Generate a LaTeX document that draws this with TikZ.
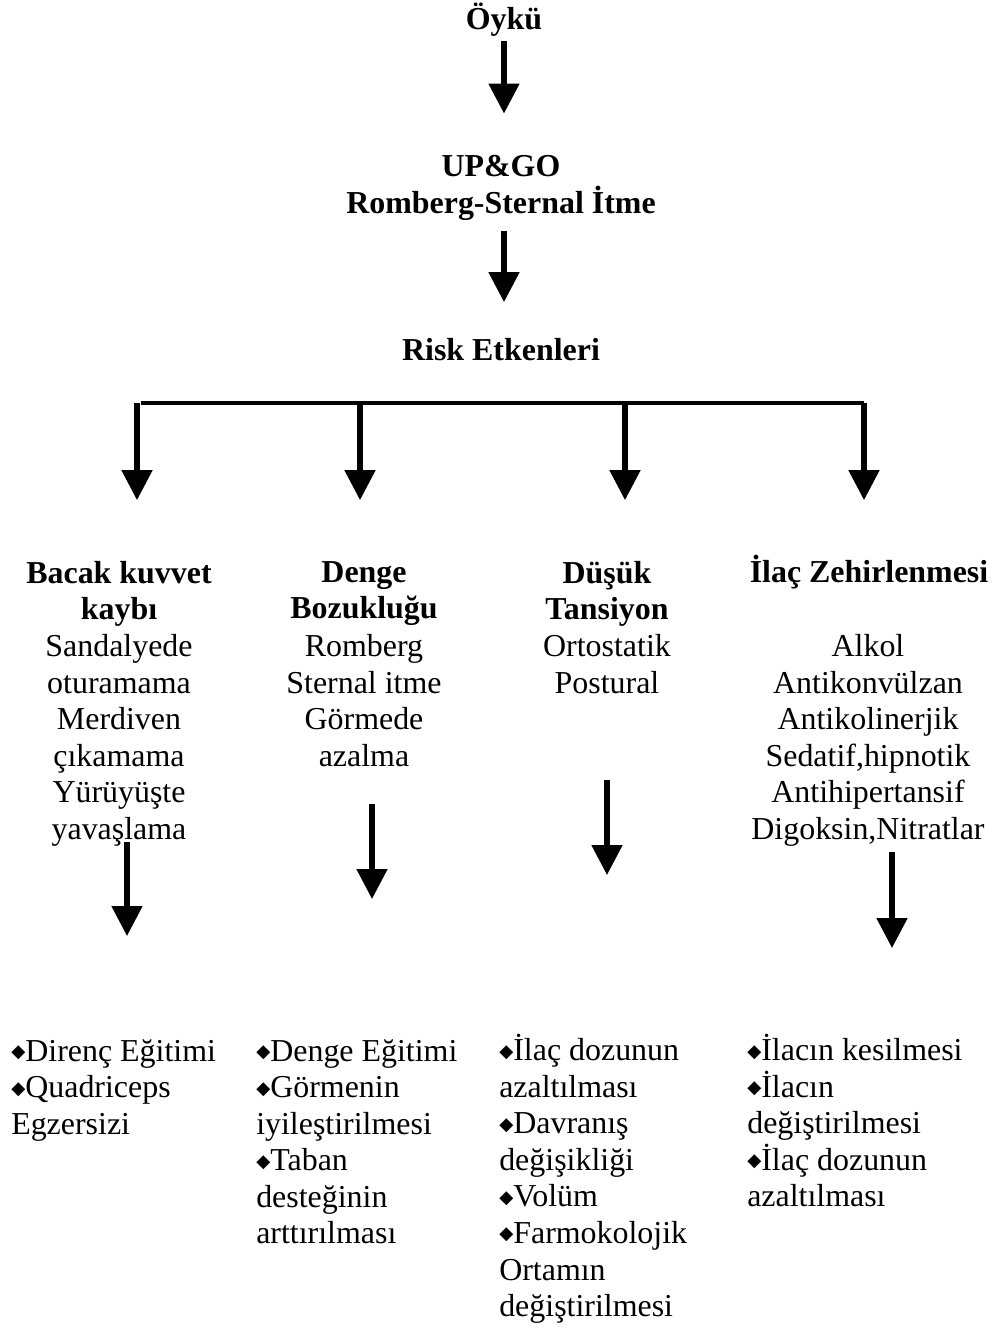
\documentclass[tikz,border=0pt]{standalone}
\usepackage{fontspec}
\setmainfont{Liberation Serif}
\newfontfamily\symfont{DejaVu Sans}
\usetikzlibrary{arrows.meta,positioning}
\newcommand{\dia}{{\symfont\fontsize{13}{13}\selectfont\raisebox{2.5pt}{◆}}}
\newcommand{\tp}{\rule{0pt}{25pt}}
\tikzset{txt/.style={font=\fontsize{22.7}{26}\selectfont,inner sep=0pt,align=center,anchor=north,execute at begin node=\tp},
  head/.style={txt,font=\fontsize{22.7}{26}\selectfont\bfseries},
  todo/.style={txt,align=left,anchor=north west},
  flow/.style={-{Triangle[length=21.3pt,width=21.3pt]},line width=3.6pt},
  bar/.style={line width=2.9pt}}

\begin{document}
\begin{tikzpicture}[x=0.025cm,y=-0.025cm]
  \useasboundingbox (0,0) rectangle (999,1328);
  % top chain
  \node[head] (oyku) at (504,-6) {Öykü};
  \node[head] (upgo) at (501,155) {UP\&GO\\Romberg-Sternal İtme};
  \node[head] (risk) at (501,325) {Risk Etkenleri};
  \draw[flow,shorten <=3pt,shorten >=29.5pt] (oyku) -- (oyku |- upgo.north);
  \draw[flow,shorten <=7.8pt,shorten >=16.3pt] (upgo.south -| oyku) -- (oyku |- risk.north);
  % risk factors
  \node[head] (h1) at (119,561) {Bacak kuvvet\\kaybı};
  \node[head] (h2) at (364,561) {Denge\\Bozukluğu};
  \node[head] (h3) at (607,561) {Düşük\\Tansiyon};
  \node[head] (h4) at (869,547) {İlaç Zehirlenmesi};
  \node[txt] (l1) at (119,634) {Sandalyede\\oturamama\\Merdiven\\çıkamama\\Yürüyüşte\\yavaşlama};
  \node[txt] (l2) at (364,634) {Romberg\\Sternal itme\\Görmede\\azalma};
  \node[txt] (l3) at (607,634) {Ortostatik\\Postural};
  \node[txt] (l4) at (868,634) {Alkol\\Antikonvülzan\\Antikolinerjik\\Sedatif,hipnotik\\Antihipertansif\\Digoksin,Nitratlar};
  \coordinate (bl) at (141,403);
  \coordinate (br) at (864,403);
  \draw[bar] (bl) -- (br);
  \foreach \x/\n in {137/1,360/2,625/3,864/4}{
    \coordinate (b\n) at (\x,403);
    \draw[flow,shorten >=43.3pt] (b\n) -- (b\n |- h1.north);
  }
  % interventions
  \node[todo] (t1) at (11,1039) {\dia Direnç Eğitimi\\\dia Quadriceps\\Egzersizi};
  \node[todo] (t2) at (256,1039) {\dia Denge Eğitimi\\\dia Görmenin\\iyileştirilmesi\\\dia Taban\\desteğinin\\arttırılması};
  \node[todo] (t3) at (499,1034) {\dia İlaç dozunun\\azaltılması\\\dia Davranış\\değişikliği\\\dia Volüm\\\dia Farmokolojik\\Ortamın\\değiştirilmesi};
  \node[todo] (t4) at (747,1034) {\dia İlacın kesilmesi\\\dia İlacın\\değiştirilmesi\\\dia İlaç dozunun\\azaltılması};
  \foreach \x/\ya/\yb [count=\n] in {127/842/936,372/804/899,607/780/875,892/852/948}{
    \coordinate (s\n) at (\x,\ya);
    \coordinate (e\n) at (\x,\yb);
    \draw[flow] (s\n) -- (e\n);
  }
\end{tikzpicture}
\end{document}
